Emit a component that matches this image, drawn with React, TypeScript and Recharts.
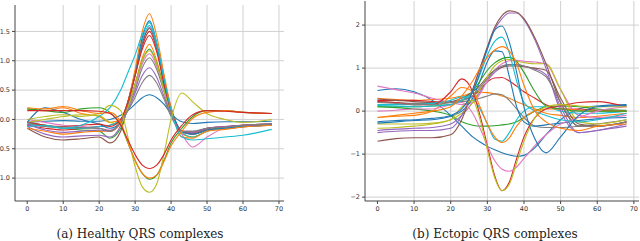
import React from 'react';
import { LineChart, Line, XAxis, YAxis, ReferenceLine } from 'recharts';

// sample positions along the beat (same for every series)
const xs = [0, 5, 10, 15, 20, 23, 26, 28, 30, 32, 34, 36, 38, 40, 43, 46, 50, 55, 60, 68];

// (a) healthy QRS complexes
const hBlueBroad = [-0.05, -0.03, -0.02, -0.03, -0.03, 0.0, 0.07, 0.15, 0.26, 0.37, 0.42, 0.37, 0.26, 0.1, -0.04, -0.07, -0.05, -0.04, -0.04, -0.03];
const hOrangeTop = [-0.15, -0.2, -0.25, -0.22, -0.2, -0.2, -0.05, 0.3, 0.85, 1.5, 1.8, 1.42, 0.78, 0.2, -0.3, -0.32, -0.2, -0.17, -0.13, -0.1];
const hGreenNeg = [0.18, 0.15, 0.12, 0.18, 0.2, 0.12, -0.1, -0.4, -0.7, -0.92, -1.02, -0.95, -0.7, -0.4, -0.15, 0.05, 0.15, 0.15, 0.12, 0.1];
const hRedNeg = [0.15, 0.15, 0.15, 0.15, 0.14, 0.1, -0.1, -0.35, -0.6, -0.78, -0.84, -0.78, -0.6, -0.35, -0.1, 0.08, 0.15, 0.14, 0.12, 0.1];
const hPurpleHi = [-0.12, -0.25, -0.3, -0.28, -0.27, -0.3, -0.1, 0.3, 0.8, 1.3, 1.57, 1.25, 0.65, 0.15, -0.22, -0.25, -0.18, -0.15, -0.12, -0.1];
const hBrown = [-0.15, -0.3, -0.35, -0.33, -0.3, -0.4, -0.2, 0.25, 0.75, 1.3, 1.55, 1.22, 0.62, 0.12, -0.22, -0.25, -0.18, -0.16, -0.13, -0.1];
const hPink = [0.0, -0.05, -0.1, -0.12, -0.15, -0.18, -0.05, 0.2, 0.55, 0.95, 1.12, 0.9, 0.5, 0.1, -0.25, -0.47, -0.3, -0.15, -0.12, -0.1];
const hGrayHi = [-0.05, -0.1, -0.15, -0.15, -0.15, -0.2, -0.05, 0.2, 0.5, 0.88, 1.05, 0.85, 0.48, 0.1, -0.2, -0.22, -0.16, -0.13, -0.1, -0.08];
const hOliveNeg = [0.0, 0.05, 0.08, 0.05, 0.1, 0.24, 0.15, -0.3, -0.8, -1.15, -1.24, -1.1, -0.6, 0.0, 0.45, 0.3, 0.1, 0.0, -0.05, 0.0];
const hCyanEarly = [-0.12, -0.1, -0.15, -0.1, 0.05, 0.2, 0.5, 0.8, 1.1, 1.45, 1.65, 1.3, 0.7, 0.15, -0.3, -0.35, -0.33, -0.3, -0.27, -0.17];
const hBlueHi = [-0.05, 0.2, 0.12, 0.0, -0.08, -0.15, -0.05, 0.3, 0.8, 1.4, 1.68, 1.3, 0.7, 0.2, -0.2, -0.25, -0.18, -0.15, -0.12, -0.08];
const hOrangeNeg = [0.2, 0.18, 0.22, 0.15, 0.1, 0.12, -0.05, -0.4, -0.7, -0.92, -1.0, -0.95, -0.72, -0.45, -0.2, 0.02, 0.12, 0.15, 0.12, 0.1];
const hGreenHi = [-0.05, -0.1, -0.15, -0.18, -0.2, -0.32, -0.15, 0.2, 0.6, 1.0, 1.2, 0.95, 0.55, 0.15, -0.2, -0.25, -0.18, -0.14, -0.12, -0.1];
const hRedHi = [-0.1, -0.15, -0.18, -0.15, -0.12, -0.1, 0.0, 0.3, 0.75, 1.25, 1.5, 1.2, 0.65, 0.15, -0.2, -0.22, -0.15, -0.13, -0.1, -0.08];
const hPurpleLo = [-0.08, -0.18, -0.22, -0.2, -0.18, -0.2, -0.05, 0.15, 0.45, 0.75, 0.88, 0.72, 0.4, 0.08, -0.2, -0.22, -0.15, -0.12, -0.1, -0.08];
const hRedMid = [-0.05, -0.1, -0.12, -0.1, -0.08, -0.12, 0.0, 0.3, 0.75, 1.2, 1.43, 1.15, 0.62, 0.14, -0.2, -0.22, -0.15, -0.12, -0.1, -0.08];
const hGrayLo = [-0.05, -0.12, -0.13, -0.14, -0.15, -0.2, -0.05, 0.15, 0.38, 0.63, 0.75, 0.62, 0.35, 0.05, -0.2, -0.2, -0.15, -0.13, -0.1, -0.08];
const hOliveHi = [-0.05, 0.0, 0.05, 0.08, 0.06, -0.05, -0.08, 0.2, 0.6, 1.0, 1.17, 0.95, 0.5, 0.1, -0.22, -0.3, -0.2, -0.15, -0.12, -0.1];
const hCyanHi = [-0.08, -0.12, -0.15, -0.15, -0.12, -0.1, 0.0, 0.3, 0.8, 1.35, 1.6, 1.25, 0.68, 0.18, -0.22, -0.3, -0.2, -0.15, -0.12, -0.1];
const hOrangeMid = [0.18, 0.15, 0.2, 0.1, 0.05, -0.05, 0.0, 0.25, 0.6, 1.05, 1.28, 1.0, 0.55, 0.12, -0.25, -0.3, -0.2, -0.15, -0.12, -0.1];

// (b) ectopic QRS complexes
const eBrownWide = [-0.7, -0.64, -0.62, -0.62, -0.55, -0.2, 0.5, 1.0, 1.5, 1.95, 2.22, 2.33, 2.3, 2.15, 1.7, 1.1, 0.2, -0.35, -0.35, -0.25];
const ePurpleWide = [-0.5, -0.47, -0.45, -0.45, -0.4, -0.1, 0.5, 1.0, 1.45, 1.9, 2.15, 2.28, 2.28, 2.12, 1.65, 1.0, 0.0, -0.5, -0.45, -0.35];
const eBlueTall = [-0.25, -0.22, -0.2, -0.17, -0.1, 0.05, 0.45, 0.9, 1.45, 1.88, 1.98, 1.6, 0.9, 0.1, -0.65, -0.97, -0.6, -0.1, 0.1, 0.13];
const eCyanTall = [0.13, 0.12, 0.1, 0.12, 0.15, 0.25, 0.45, 0.85, 1.3, 1.62, 1.72, 1.35, 0.7, 0.2, 0.0, -0.1, -0.2, -0.25, -0.2, -0.05];
const eOrangeTall = [-0.15, -0.1, -0.05, 0.0, 0.1, 0.35, 0.7, 1.0, 1.25, 1.42, 1.5, 1.4, 1.1, 0.6, 0.0, -0.25, -0.4, -0.45, -0.35, -0.3];
const eBlueMid = [-0.28, -0.25, -0.22, -0.2, -0.12, 0.0, 0.3, 0.7, 1.15, 1.4, 1.38, 0.8, 0.1, -0.25, -0.35, -0.32, -0.28, -0.22, -0.18, -0.15];
const eGreenWide = [0.1, 0.1, 0.1, 0.12, 0.15, 0.25, 0.45, 0.7, 0.95, 1.12, 1.22, 1.25, 1.15, 0.9, 0.45, 0.12, 0.05, 0.0, 0.0, 0.0];
const eOliveWide = [-0.3, -0.3, -0.3, -0.28, -0.2, -0.05, 0.2, 0.5, 0.8, 1.05, 1.17, 1.2, 1.16, 1.13, 1.1, 1.1, 0.5, -0.25, -0.3, -0.2];
const ePinkWide = [0.58, 0.5, 0.42, 0.3, 0.2, 0.15, 0.2, 0.4, 0.7, 0.95, 1.1, 1.17, 1.18, 1.16, 1.14, 1.1, 0.5, -0.1, -0.15, -0.1];
const eGrayWide = [0.2, 0.18, 0.15, 0.15, 0.2, 0.25, 0.35, 0.55, 0.75, 0.95, 1.05, 1.08, 1.08, 1.05, 0.95, 0.8, 0.2, -0.35, -0.35, -0.25];
const eBrownMid = [0.28, 0.25, 0.22, 0.2, 0.22, 0.3, 0.45, 0.6, 0.8, 0.95, 1.02, 1.05, 1.05, 1.03, 1.0, 0.95, 0.3, -0.3, -0.35, -0.25];
const ePurpleMid = [-0.45, -0.42, -0.4, -0.38, -0.3, -0.1, 0.2, 0.45, 0.7, 0.9, 1.02, 1.08, 1.08, 1.05, 0.98, 0.85, 0.1, -0.5, -0.45, -0.3];
const eRedMid = [0.25, 0.25, 0.25, 0.22, 0.2, 0.25, 0.35, 0.5, 0.68, 0.77, 0.78, 0.7, 0.58, 0.45, 0.3, 0.15, 0.05, 0.05, 0.02, 0.0];
const eGrayLow = [0.22, 0.2, 0.18, 0.18, 0.2, 0.22, 0.25, 0.3, 0.35, 0.4, 0.38, 0.25, 0.05, -0.15, -0.35, -0.38, -0.38, -0.35, -0.3, -0.2];
const eOrangeFlat = [0.3, 0.27, 0.25, 0.27, 0.3, 0.35, 0.42, 0.44, 0.43, 0.4, 0.35, 0.3, 0.22, 0.15, 0.05, -0.05, -0.1, -0.15, -0.12, -0.05];
const eRedNeg = [0.22, 0.2, 0.15, 0.15, 0.45, 0.75, 0.45, -0.1, -0.8, -1.5, -1.85, -1.65, -1.1, -0.6, -0.15, 0.05, 0.12, 0.2, 0.22, 0.1];
const eOliveNeg = [-0.4, -0.38, -0.35, -0.3, -0.2, 0.1, 0.25, -0.2, -0.9, -1.55, -1.85, -1.7, -1.2, -0.7, -0.15, 0.1, 0.15, 0.12, 0.1, 0.1];
const eOrangeNeg = [-0.15, -0.12, -0.1, 0.0, 0.35, 0.55, 0.45, 0.1, -0.3, -0.6, -0.73, -0.62, -0.35, -0.15, 0.0, 0.05, 0.05, 0.02, 0.0, 0.0];
const eCyanNeg = [0.15, 0.15, 0.15, 0.18, 0.25, 0.33, 0.3, 0.05, -0.3, -0.65, -0.7, -0.5, -0.2, 0.0, 0.1, 0.1, 0.0, -0.05, -0.05, 0.0];
const ePinkNeg = [0.0, 0.02, 0.05, 0.05, 0.15, 0.2, -0.05, -0.4, -0.8, -1.15, -1.35, -1.4, -1.3, -1.1, -0.8, -0.55, -0.3, -0.15, 0.0, 0.1];
const eBlueNeg = [0.48, 0.52, 0.45, 0.25, -0.1, -0.35, -0.6, -0.72, -0.82, -0.9, -0.97, -1.02, -1.05, -1.03, -0.85, -0.55, -0.2, 0.05, 0.12, 0.15];
const eGreenDip = [0.1, 0.08, 0.05, 0.0, -0.1, -0.25, -0.33, -0.35, -0.35, -0.34, -0.32, -0.3, -0.25, -0.15, 0.0, 0.1, 0.12, 0.1, 0.05, 0.02];

const xTicks = [0, 10, 20, 30, 40, 50, 60, 70];
const healthyYTicks = [-1, -0.5, 0, 0.5, 1, 1.5];
const ectopicYTicks = [-2, -1, 0, 1, 2];

const C = {
  blue: '#1f77b4', orange: '#ff7f0e', green: '#2ca02c', red: '#d62728', purple: '#9467bd',
  brown: '#8c564b', pink: '#e377c2', gray: '#7f7f7f', olive: '#bcbd22', cyan: '#17becf',
};

const healthy: [number[], string][] = [
  [hBlueBroad, C.blue], [hOrangeMid, C.orange], [hGreenHi, C.green], [hRedHi, C.red],
  [hPurpleHi, C.purple], [hBrown, C.brown], [hPink, C.pink], [hGrayHi, C.gray],
  [hOliveHi, C.olive], [hCyanHi, C.cyan], [hBlueHi, C.blue], [hOrangeTop, C.orange],
  [hGreenNeg, C.green], [hRedMid, C.red], [hPurpleLo, C.purple], [hGrayLo, C.gray],
  [hCyanEarly, C.cyan], [hOliveNeg, C.olive], [hOrangeNeg, C.orange], [hRedNeg, C.red],
];

const ectopic: [number[], string][] = [
  [eBlueNeg, C.blue], [eOrangeFlat, C.orange], [eGreenDip, C.green], [eRedMid, C.red],
  [ePurpleMid, C.purple], [eBrownMid, C.brown], [ePinkWide, C.pink], [eGrayLow, C.gray],
  [eOliveWide, C.olive], [eCyanNeg, C.cyan], [eBlueMid, C.blue], [eOrangeNeg, C.orange],
  [eGreenWide, C.green], [eRedNeg, C.red], [ePurpleWide, C.purple], [eBrownWide, C.brown],
  [ePinkNeg, C.pink], [eGrayWide, C.gray], [eOliveNeg, C.olive], [eCyanTall, C.cyan],
  [eBlueTall, C.blue], [eOrangeTall, C.orange],
];

const buildRows = (series: [number[], string][]) =>
  xs.map((x, i) => {
    const row: Record<string, number> = { x };
    series.forEach(([vals], k) => (row['s' + k] = vals[i]));
    return row;
  });

const minus = (s: string) => s.replace('-', '\u2212');
const tickStyle = { fontSize: 6.5, fill: '#333', fontFamily: 'DejaVu Sans' };
const spine = { stroke: '#444', strokeWidth: 1 };
const gridColor = '#d0d0d0';

interface PanelProps {
  series: [number[], string][];
  width: number;
  height: number;
  margin: { top: number; right: number; left: number; bottom: number };
  yWidth: number;
  yDomain: [number, number];
  yTicks: number[];
  yFormat: (v: number) => string;
}

const Panel = ({ series, width, height, margin, yWidth, yDomain, yTicks, yFormat }: PanelProps) => (
  <LineChart width={width} height={height} data={buildRows(series)} margin={margin}>
    <XAxis
      dataKey="x"
      type="number"
      domain={[-3.4, 71.4]}
      ticks={xTicks}
      allowDataOverflow
      height={19}
      tick={tickStyle}
      tickSize={3}
      tickMargin={2}
      axisLine={spine}
      tickLine={spine}
    />
    <XAxis xAxisId="top" orientation="top" dataKey="x" type="number" domain={[-3.4, 71.4]} height={0} tick={false} tickLine={false} axisLine={spine} />
    <YAxis
      type="number"
      domain={yDomain}
      ticks={yTicks}
      allowDataOverflow
      width={yWidth}
      tick={tickStyle}
      tickSize={3}
      tickMargin={2}
      tickFormatter={yFormat}
      axisLine={spine}
      tickLine={spine}
    />
    <YAxis yAxisId="right" orientation="right" type="number" domain={yDomain} width={0} tick={false} tickLine={false} axisLine={spine} />
    {xTicks.slice(1).map((t) => (
      <ReferenceLine key={'gx' + t} x={t} stroke={gridColor} strokeWidth={1} />
    ))}
    {yTicks.map((t) => (
      <ReferenceLine key={'gy' + t} y={t} stroke={gridColor} strokeWidth={1} />
    ))}
    {series.map(([, color], k) => (
      <Line
        key={k}
        dataKey={'s' + k}
        type="monotone"
        stroke={color}
        strokeWidth={1.1}
        dot={false}
        isAnimationActive={false}
      />
    ))}
  </LineChart>
);

const captionStyle: React.CSSProperties = {
  position: 'absolute',
  top: 227,
  textAlign: 'center',
  fontFamily: 'DejaVu Serif',
  fontSize: 12,
  lineHeight: '14px',
  color: '#222',
  whiteSpace: 'nowrap',
};

export default function App() {
  return (
    <div style={{ position: 'fixed', left: 0, top: 0, width: 640, height: 241, overflow: 'hidden', background: '#fff' }}>
      <div style={{ position: 'absolute', left: 0, top: 0 }}>
        <Panel
          series={healthy}
          width={290}
          height={220}
          margin={{ top: 5, right: 6, left: 0, bottom: 0 }}
          yWidth={15}
          yDomain={[-1.39, 1.95]}
          yTicks={healthyYTicks}
          yFormat={(v) => minus(v.toFixed(1))}
        />
      </div>
      <div style={{ position: 'absolute', left: 320, top: 0 }}>
        <Panel
          series={ectopic}
          width={320}
          height={220}
          margin={{ top: 1, right: 1, left: 0, bottom: 0 }}
          yWidth={45}
          yDomain={[-2.09, 2.56]}
          yTicks={ectopicYTicks}
          yFormat={(v) => minus(String(v))}
        />
      </div>
      <div style={{ ...captionStyle, left: 0, width: 280 }}>(a) Healthy QRS complexes</div>
      <div style={{ ...captionStyle, left: 355, width: 280 }}>(b) Ectopic QRS complexes</div>
    </div>
  );
}
